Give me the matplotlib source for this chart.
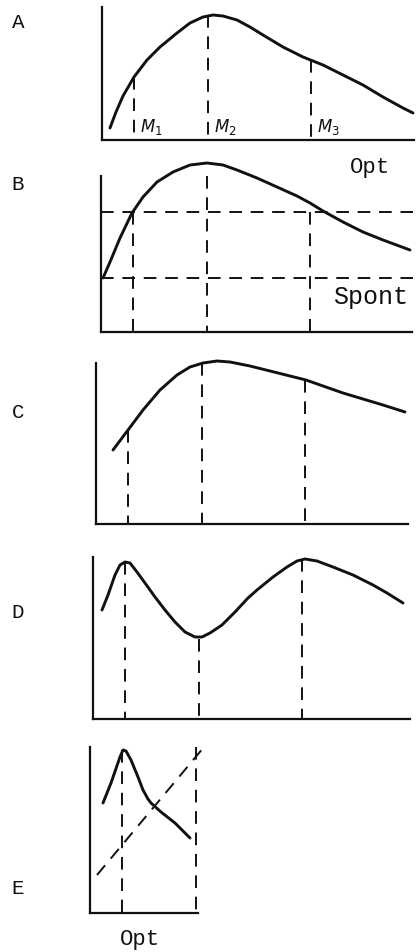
import matplotlib.pyplot as plt

plt.rcParams['mathtext.fontset'] = 'dejavusans'

W, H = 419, 952

# stimulus positions of the three marked points (shared by all panels)
m_pos = [32, 106, 209]

# A: single broad tuning curve
a_x = [8, 14, 21, 32, 45, 58, 75, 88, 101, 111, 121, 135, 148, 161, 181, 201, 221, 241, 261, 281, 301, 311]
a_y = [12, 28, 44, 63, 80, 93, 107, 117, 123, 125, 124, 120, 113, 105, 93, 83, 75, 65, 55, 43, 32, 27]
a_drop = [63, 125, 80]

# B: same curve with spontaneous / criterion levels
b_x = [2, 9, 19, 31, 42, 56, 72, 89, 106, 122, 136, 156, 176, 196, 209, 222, 242, 262, 282, 309]
b_y = [54, 70, 94, 119, 135, 150, 160, 167, 169, 167, 162, 154, 145, 136, 129, 121, 110, 100, 92, 82]
b_drop = [120, 156, 120]
opt_level = 120
spont_level = 54

# C: flattened curve
c_x = [17, 32, 47, 64, 81, 94, 107, 121, 134, 154, 174, 194, 210, 227, 247, 267, 287, 309]
c_y = [74, 94, 114, 134, 149, 157, 161, 163, 162, 158, 153, 148, 144, 138, 131, 125, 119, 112]
c_drop = [94, 161, 144]

# D: two-peaked curve
d_x = [9, 15, 22, 27, 32, 37, 44, 52, 62, 72, 82, 92, 102, 109, 117, 129, 142, 155,
       164, 180, 194, 204, 212, 224, 240, 260, 280, 294, 310]
d_y = [109, 124, 144, 154, 157, 156, 147, 136, 122, 109, 97, 87, 82, 82, 86, 94, 107, 121,
       129, 142, 152, 158, 160, 158, 152, 144, 134, 126, 116]
d_drop = [157, 80, 160]

# E: narrow peak with a rising reference line
e_x = [13, 21, 30, 33, 36, 41, 48, 53, 58, 61, 71, 85, 100]
e_y = [110, 130, 156, 163, 162, 153, 136, 123, 114, 110, 101, 90, 75]
e_diag_x = [7, 114]
e_diag_y = [38, 166]
e_drop = [163, 166]

ink = '#111111'
dash = (0, (6.5, 4.5))

fig = plt.figure(figsize=(W / 100, H / 100), dpi=100)


def panel(left, top, right, bottom):
    ax = fig.add_axes([left / W, 1 - bottom / H, (right - left) / W, (bottom - top) / H])
    ax.set_xlim(0, right - left)
    ax.set_ylim(0, bottom - top)
    for side in ('top', 'right'):
        ax.spines[side].set_visible(False)
    for side in ('left', 'bottom'):
        ax.spines[side].set_linewidth(1.6)
        ax.spines[side].set_color(ink)
    ax.set_xticks([])
    ax.set_yticks([])
    ax.patch.set_alpha(0)
    return ax


def curve(ax, x, y):
    ax.plot(x, y, color=ink, lw=2.1, solid_capstyle='round', solid_joinstyle='round', clip_on=False)


def dashed(ax, x, y):
    ax.plot(x, y, color=ink, lw=1.4, linestyle=dash, clip_on=False)


def drops(ax, xs, tops):
    for x, t in zip(xs, tops):
        dashed(ax, [x, x], [t, 0])


def label(x, y, s, size, **kw):
    fig.text(x / W, 1 - y / H, s, fontsize=size, ha='center', va='center', color=ink, **kw)


ax_a = panel(102, 7, 414, 140)
curve(ax_a, a_x, a_y)
drops(ax_a, m_pos, a_drop)
for i, m in enumerate(m_pos):
    ax_a.text(m + 6, 8, r'$M_{%d}$' % (i + 1), fontsize=12, color=ink, ha='left', va='baseline')

ax_b = panel(101, 176, 412, 332)
curve(ax_b, b_x, b_y)
drops(ax_b, m_pos, b_drop)
dashed(ax_b, [0, 312], [opt_level, opt_level])
dashed(ax_b, [0, 312], [spont_level, spont_level])

ax_c = panel(96, 363, 408, 524)
curve(ax_c, c_x, c_y)
drops(ax_c, m_pos, c_drop)

ax_d = panel(93, 557, 410, 719)
curve(ax_d, d_x, d_y)
drops(ax_d, m_pos, d_drop)

ax_e = panel(90, 747, 198, 913)
curve(ax_e, e_x, e_y)
drops(ax_e, m_pos[:2], e_drop)
dashed(ax_e, e_diag_x, e_diag_y)

mono = 'Liberation Mono'
for letter, y in zip('ABCDE', [23, 185, 412, 613, 888]):
    label(18, y, letter, 15, family=mono)
label(370, 167, 'Opt', 16, family=mono)
label(371, 297, 'Spont', 18, family=mono)
label(140, 940, 'Opt', 16, family=mono)

fig.savefig('out.png', dpi=100, facecolor='white')
